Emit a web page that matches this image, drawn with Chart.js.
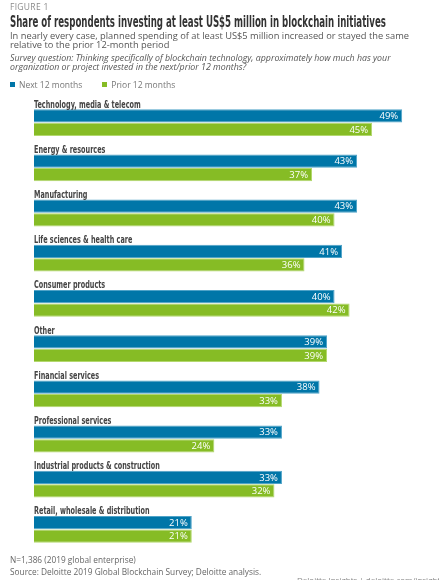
<!DOCTYPE html>
<html>
<head>
<meta charset="utf-8">
<script src="https://cdn.jsdelivr.net/npm/chart.js@4.4.1/dist/chart.umd.min.js"></script>
<style>
  body { margin: 0; background: #fff; width: 439px; height: 580px; overflow: hidden; position: relative; font-family: "Open Sans", sans-serif; }
  .txt { position: absolute; left: 10px; white-space: nowrap; z-index: 2; }
  #fig { top: 1px; font-size: 8.5px; color: #8a8a8a; letter-spacing: 0.3px; }
  #title { top: 13px; font-family: "DejaVu Sans Condensed", sans-serif; font-weight: bold; font-size: 15px; color: #333; transform-origin: 0 0; }
  #sub { top: 30.5px; font-size: 9.3px; line-height: 9.6px; color: #555; }
  #q { top: 53.5px; font-size: 8.8px; line-height: 9.5px; color: #555; font-style: italic; }
  #legend { top: 79px; font-size: 8.5px; color: #777; }
  #legend span.sw { display: inline-block; width: 5px; height: 5px; margin-right: 4px; vertical-align: 1px; }
  #note { top: 554px; font-size: 8.3px; color: #666; line-height: 12px; }
  #credit { top: 574px; left: 297px; font-size: 8px; color: #888; }
  #wrap { position: absolute; left: 0; top: 0; width: 439px; height: 580px; z-index: 1; }
</style>
</head>
<body>
<div class="txt" id="fig">FIGURE 1</div>
<div class="txt" id="title">Share of respondents investing at least US$5 million in blockchain initiatives</div>
<div class="txt" id="sub">In nearly every case, planned spending of at least US$5 million increased or stayed the same<br>relative to the prior 12-month period</div>
<div class="txt" id="q">Survey question: Thinking specifically of blockchain technology, approximately how much has your<br>organization or project invested in the next/prior 12 months?</div>
<div class="txt" id="legend"><span class="sw" style="background:#0076A8"></span>Next 12 months<span style="display:inline-block;width:20px"></span><span class="sw" style="background:#86BC25"></span>Prior 12 months</div>
<div class="txt" id="note">N=1,386 (2019 global enterprise)<br>Source: Deloitte 2019 Global Blockchain Survey; Deloitte analysis.</div>
<div class="txt" id="credit">Deloitte Insights | deloitte.com/insights</div>
<div id="wrap"><canvas id="chart"></canvas></div>
<script>
// Categories and values
const categories = [
    'Technology, media & telecom',
    'Energy & resources',
    'Manufacturing',
    'Life sciences & health care',
    'Consumer products',
    'Other',
    'Financial services',
    'Professional services',
    'Industrial products & construction',
    'Retail, wholesale & distribution'
];
const nextMonths = [49, 43, 43, 41, 40, 39, 38, 33, 33, 21];
const priorMonths = [45, 37, 40, 36, 42, 39, 33, 24, 32, 21];

const BLUE = '#0076A8';
const GREEN = '#86BC25';
const LABEL_FONT = 'bold 10px "DejaVu Sans Condensed", sans-serif';

// Squeeze the title into a condensed look
const title = document.getElementById('title');
title.style.transform = 'scaleX(' + (376 / title.offsetWidth) + ')';

// Draw the category name above each pair of bars
const categoryLabels = {
    id: 'categoryLabels',
    afterDatasetsDraw(chart) {
        const ctx = chart.ctx;
        const meta = chart.getDatasetMeta(0);
        ctx.save();
        ctx.font = LABEL_FONT;
        ctx.fillStyle = '#444';
        ctx.textAlign = 'left';
        ctx.textBaseline = 'alphabetic';
        meta.data.forEach((bar, i) => {
            ctx.save();
            ctx.translate(chart.chartArea.left, bar.y - bar.height / 2 - 1.5);
            ctx.scale(0.72, 1);
            ctx.fillText(categories[i], 0, 0);
            ctx.restore();
        });
        ctx.restore();
    }
};

// White percentage labels inside the end of each bar
const valueLabels = {
    id: 'valueLabels',
    afterDatasetsDraw(chart) {
        const ctx = chart.ctx;
        ctx.save();
        ctx.font = '9.5px "Open Sans", sans-serif';
        ctx.fillStyle = '#fff';
        ctx.textAlign = 'right';
        ctx.textBaseline = 'middle';
        chart.data.datasets.forEach((ds, d) => {
            chart.getDatasetMeta(d).data.forEach((bar, i) => {
                ctx.fillText(ds.data[i] + '%', bar.x - 4, bar.y + 0.5);
            });
        });
        ctx.restore();
    }
};

const ctx = document.getElementById('chart').getContext('2d');
new Chart(ctx, {
    type: 'bar',
    data: {
        labels: categories,
        datasets: [{
            label: 'Next 12 months',
            data: nextMonths,
            backgroundColor: BLUE,
            borderColor: '#4FA3C8',
            borderWidth: 1,
            barPercentage: 0.98,
            categoryPercentage: 0.6
        }, {
            label: 'Prior 12 months',
            data: priorMonths,
            backgroundColor: GREEN,
            borderColor: '#B3D86E',
            borderWidth: 1,
            barPercentage: 0.98,
            categoryPercentage: 0.6
        }]
    },
    options: {
        indexAxis: 'y',
        responsive: true,
        maintainAspectRatio: false,
        animation: false,
        layout: {
            padding: { left: 34, right: 3, top: 100, bottom: 28 }
        },
        plugins: {
            legend: { display: false },
            tooltip: { enabled: false }
        },
        scales: {
            x: { display: false, min: 0, max: 53.5 },
            y: { display: false }
        }
    },
    plugins: [categoryLabels, valueLabels]
});
</script>
</body>
</html>
